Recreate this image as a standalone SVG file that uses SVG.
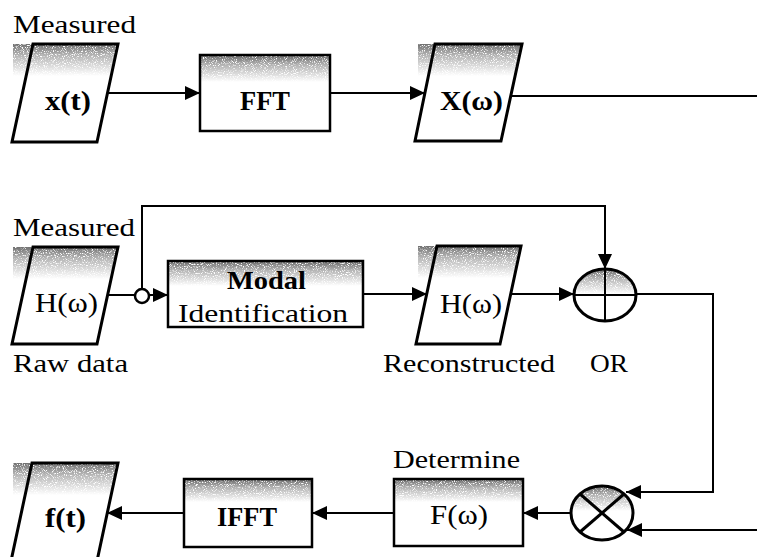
<svg xmlns="http://www.w3.org/2000/svg" width="757" height="557" viewBox="0 0 757 557">
  <style>
    text { font-family: "Liberation Serif", "Times New Roman", serif; fill: #000; }
    .cap { font-size: 26px; }
    .lbl { font-size: 28px; }
    .b { font-weight: bold; }
    .outline { fill: none; stroke: #000; stroke-width: 3; stroke-linejoin: miter; }
    .box { fill: none; stroke: #000; stroke-width: 2.5; }
    .wire { fill: none; stroke: #000; stroke-width: 2; }
    .arrow { marker-end: url(#head); }
    .shade { fill: url(#fade); filter: url(#grain); }
  </style>
  <defs>
    <marker id="head" markerUnits="userSpaceOnUse" markerWidth="16" markerHeight="14" refX="15" refY="7" orient="auto">
      <path d="M0,0 L15,7 L0,14 Z" fill="#000"/>
    </marker>
    <linearGradient id="fade" x1="0" y1="0" x2="0" y2="1">
      <stop offset="0" stop-color="#000" stop-opacity="0.8"/>
      <stop offset="0.35" stop-color="#000" stop-opacity="0.42"/>
      <stop offset="1" stop-color="#000" stop-opacity="0"/>
    </linearGradient>
    <!-- speckle: noise mask multiplied by the fading alpha -->
    <filter id="grain" x="0" y="0" width="1" height="1" color-interpolation-filters="sRGB">
      <feTurbulence type="fractalNoise" baseFrequency="0.9" numOctaves="2" seed="7" result="noise"/>
      <feColorMatrix in="noise" type="matrix" values="0 0 0 0 0.3  0 0 0 0 0.3  0 0 0 0 0.3  5 0 0 0 -1.35" result="dots"/>
      <feComposite in="dots" in2="SourceGraphic" operator="in"/>
    </filter>
    <clipPath id="clipOr"><ellipse cx="605" cy="295" rx="30" ry="25"/></clipPath>
    <clipPath id="clipX"><ellipse cx="602" cy="513" rx="30" ry="26"/></clipPath>
  </defs>

  <!-- top row -->
  <g id="measured-xt">
    <text class="cap" x="13" y="33" textLength="123" lengthAdjust="spacingAndGlyphs">Measured</text>
    <polygon class="shade" points="13,44 118,44 111,76 13,76"/>
    <polygon class="outline" points="33,44 118,44 97,142 12,142"/>
    <text class="lbl b" x="45" y="110" textLength="46" lengthAdjust="spacingAndGlyphs">x(t)</text>
  </g>
  <g id="fft">
    <rect class="shade" x="201" y="56" width="128" height="26"/>
    <rect class="box" x="200" y="55" width="130" height="76"/>
    <text class="lbl b" x="240" y="110" textLength="50" lengthAdjust="spacingAndGlyphs">FFT</text>
  </g>
  <g id="x-omega">
    <polygon class="shade" points="418,44 522,44 515,76 418,76"/>
    <polygon class="outline" points="435,44 522,44 501,141 415,141"/>
    <text class="lbl b" x="440" y="110" textLength="63" lengthAdjust="spacingAndGlyphs">X(ω)</text>
  </g>

  <!-- middle row -->
  <g id="measured-h">
    <text class="cap" x="13" y="236" textLength="122" lengthAdjust="spacingAndGlyphs">Measured</text>
    <polygon class="shade" points="13,247 118,247 111,279 13,279"/>
    <polygon class="outline" points="33,247 118,247 97,344 12,344"/>
    <text class="lbl" x="35" y="312" textLength="63" lengthAdjust="spacingAndGlyphs">H(ω)</text>
    <text class="cap" x="13" y="372" textLength="115" lengthAdjust="spacingAndGlyphs">Raw data</text>
  </g>
  <g id="junction">
    <circle cx="142" cy="296" r="7" fill="#fff" stroke="#000" stroke-width="2.5"/>
  </g>
  <g id="modal-identification">
    <rect class="shade" x="169" y="262" width="193" height="24"/>
    <rect class="box" x="168" y="261" width="195" height="66"/>
    <text class="cap b" x="227" y="289" textLength="79" lengthAdjust="spacingAndGlyphs">Modal</text>
    <text class="cap" x="178" y="322" textLength="170" lengthAdjust="spacingAndGlyphs">Identification</text>
  </g>
  <g id="h-reconstructed">
    <polygon class="shade" points="418,246 521,246 514,278 418,278"/>
    <polygon class="outline" points="437,246 521,246 500,344 416,344"/>
    <text class="lbl" x="440" y="313" textLength="62" lengthAdjust="spacingAndGlyphs">H(ω)</text>
    <text class="cap" x="383" y="372" textLength="172" lengthAdjust="spacingAndGlyphs">Reconstructed</text>
  </g>
  <g id="or-sum">
    <rect class="shade" x="575" y="270" width="60" height="24" clip-path="url(#clipOr)"/>
    <ellipse class="outline" cx="605" cy="295" rx="31" ry="26"/>
    <line class="wire" x1="574" y1="295" x2="636" y2="295"/>
    <line class="wire" x1="605" y1="269" x2="605" y2="321"/>
    <text class="cap" x="590" y="372" textLength="38" lengthAdjust="spacingAndGlyphs">OR</text>
  </g>

  <!-- bottom row -->
  <g id="multiply">
    <rect class="shade" x="572" y="487" width="62" height="24" clip-path="url(#clipX)"/>
    <ellipse class="outline" cx="602" cy="513" rx="31" ry="27"/>
    <line class="outline" x1="580" y1="494" x2="624" y2="532"/>
    <line class="outline" x1="580" y1="532" x2="624" y2="494"/>
  </g>
  <g id="determine-f">
    <text class="cap" x="393" y="468" textLength="127" lengthAdjust="spacingAndGlyphs">Determine</text>
    <rect class="shade" x="395" y="480" width="127" height="22"/>
    <rect class="box" x="394" y="479" width="129" height="67"/>
    <text class="lbl" x="430" y="524" textLength="58" lengthAdjust="spacingAndGlyphs">F(ω)</text>
  </g>
  <g id="ifft">
    <rect class="shade" x="185" y="480" width="126" height="22"/>
    <rect class="box" x="184" y="479" width="128" height="68"/>
    <text class="lbl b" x="217" y="526" textLength="60" lengthAdjust="spacingAndGlyphs">IFFT</text>
  </g>
  <g id="ft">
    <polygon class="shade" points="13,463 118,463 111,495 13,495"/>
    <polygon class="outline" points="32,463 118,463 97,561 11,561"/>
    <text class="lbl b" x="45" y="527" textLength="41" lengthAdjust="spacingAndGlyphs">f(t)</text>
  </g>

  <!-- connectors -->
  <g id="connectors">
    <line class="wire arrow" x1="108" y1="93" x2="200" y2="93"/>
    <line class="wire arrow" x1="330" y1="93" x2="425" y2="93"/>
    <line class="wire" x1="511" y1="96" x2="757" y2="96"/>
    <line class="wire" x1="108" y1="295" x2="135" y2="295"/>
    <line class="wire arrow" x1="149" y1="295" x2="168" y2="295"/>
    <polyline class="wire arrow" points="142,289 142,206 605,206 605,269"/>
    <line class="wire arrow" x1="363" y1="294" x2="427" y2="294"/>
    <line class="wire arrow" x1="511" y1="294" x2="574" y2="294"/>
    <polyline class="wire arrow" points="636,294 713,294 713,492 626,492"/>
    <line class="wire arrow" x1="757" y1="530" x2="627" y2="530"/>
    <line class="wire arrow" x1="571" y1="513" x2="523" y2="513"/>
    <line class="wire arrow" x1="394" y1="513" x2="312" y2="513"/>
    <line class="wire arrow" x1="184" y1="513" x2="107" y2="513"/>
  </g>
</svg>
